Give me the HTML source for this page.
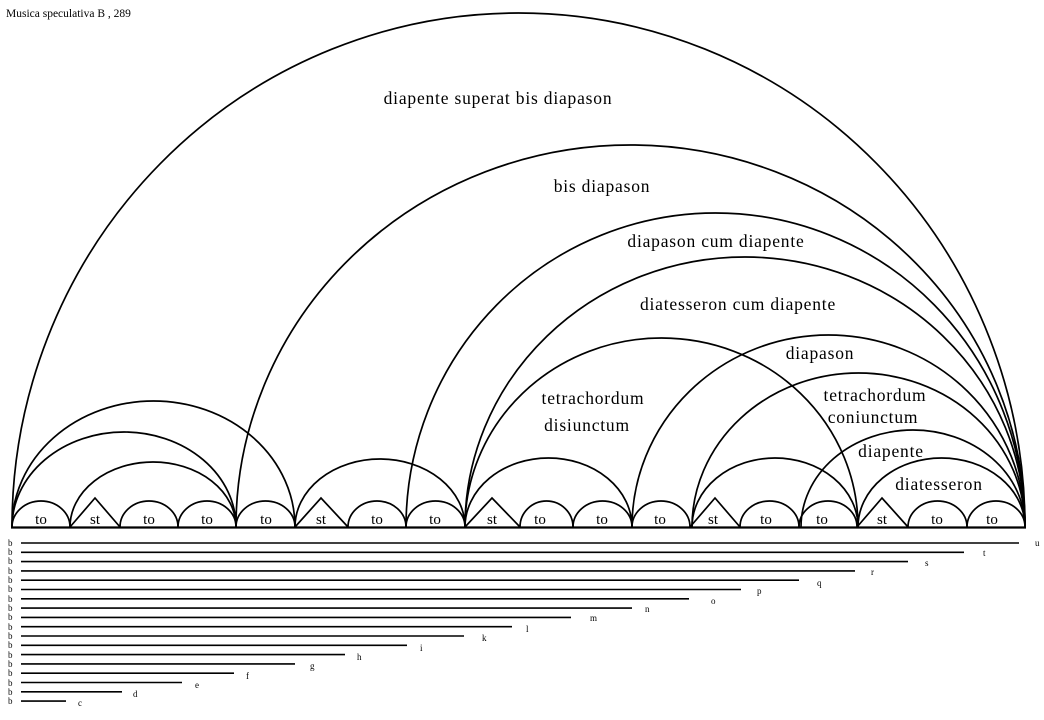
<!DOCTYPE html>
<html><head><meta charset="utf-8"><style>
html,body{margin:0;padding:0;background:#fff;}
svg{display:block;}
text{font-family:"Liberation Serif",serif;fill:#000;}
</style></head><body>
<svg width="1044" height="720" viewBox="0 0 1044 720" xmlns="http://www.w3.org/2000/svg">
<text x="6" y="17" font-size="11.5">Musica speculativa B , 289</text>
<g fill="none" stroke="#000" stroke-width="1.7">
<path d="M12 527 A506.5 514 0 0 1 1025 527"/>
<path d="M236 527 A394.5 382 0 0 1 1025 527"/>
<path d="M406 527 A309.5 314 0 0 1 1025 527"/>
<path d="M465 527 A280 270 0 0 1 1025 527"/>
<path d="M465 527 A196.5 189 0 0 1 858 527"/>
<path d="M632 527 A196.5 192 0 0 1 1025 527"/>
<path d="M692 527 A166.5 154 0 0 1 1025 527"/>
<path d="M801 527 A112 97 0 0 1 1025 527"/>
<path d="M858 527 A83.5 69 0 0 1 1025 527"/>
<path d="M692 527 A83 69 0 0 1 858 527"/>
<path d="M465 527 A83.5 69 0 0 1 632 527"/>
<path d="M295 527 A85 68 0 0 1 465 527"/>
<path d="M12 527 A141.5 126 0 0 1 295 527"/>
<path d="M12 527 A112 95 0 0 1 236 527"/>
<path d="M70 527 A83 65 0 0 1 236 527"/>
<path d="M12 527 A29 26 0 0 1 70 527"/>
<path d="M70 527 L95 498 L120 527"/>
<path d="M120 527 A29 26 0 0 1 178 527"/>
<path d="M178 527 A29 26 0 0 1 236 527"/>
<path d="M236 527 A29.5 26 0 0 1 295 527"/>
<path d="M295 527 L321 498 L348 527"/>
<path d="M348 527 A29 26 0 0 1 406 527"/>
<path d="M406 527 A29.5 26 0 0 1 465 527"/>
<path d="M465 527 L492 498 L520 527"/>
<path d="M520 527 A26.5 26 0 0 1 573 527"/>
<path d="M573 527 A29.5 26 0 0 1 632 527"/>
<path d="M632 527 A29 26 0 0 1 690 527"/>
<path d="M690 527 L715 498 L740 527"/>
<path d="M740 527 A29.5 26 0 0 1 799 527"/>
<path d="M799 527 A29 26 0 0 1 857 527"/>
<path d="M857 527 L882 498 L908 527"/>
<path d="M908 527 A29.5 26 0 0 1 967 527"/>
<path d="M967 527 A29 26 0 0 1 1025 527"/>
</g>
<line x1="11" y1="527.5" x2="1026" y2="527.5" stroke="#000" stroke-width="2.2"/>
<g font-size="15" text-anchor="middle">
<text x="41" y="524">to</text><text x="95" y="524">st</text><text x="149" y="524">to</text><text x="207" y="524">to</text>
<text x="266" y="524">to</text><text x="321" y="524">st</text><text x="377" y="524">to</text><text x="435" y="524">to</text>
<text x="492" y="524">st</text><text x="540" y="524">to</text><text x="602" y="524">to</text><text x="660" y="524">to</text>
<text x="713" y="524">st</text><text x="766" y="524">to</text><text x="822" y="524">to</text><text x="882" y="524">st</text>
<text x="937" y="524">to</text><text x="992" y="524">to</text>
</g>
<g font-size="17.5" text-anchor="middle" letter-spacing="0.8">
<text x="498" y="104">diapente superat bis diapason</text>
<text x="602" y="192">bis diapason</text>
<text x="716" y="247">diapason cum diapente</text>
<text x="738" y="310">diatesseron cum diapente</text>
<text x="820" y="359">diapason</text>
<text x="593" y="404">tetrachordum</text>
<text x="587" y="431">disiunctum</text>
<text x="875" y="401">tetrachordum</text>
<text x="873" y="423">coniunctum</text>
<text x="891" y="457">diapente</text>
<text x="939" y="490">diatesseron</text>
</g>
<g stroke="#000" stroke-width="1.6">
<line x1="21" y1="543" x2="1019" y2="543"/>
<line x1="21" y1="552.3" x2="964" y2="552.3"/>
<line x1="21" y1="561.6" x2="908" y2="561.6"/>
<line x1="21" y1="570.9" x2="855" y2="570.9"/>
<line x1="21" y1="580.2" x2="799" y2="580.2"/>
<line x1="21" y1="589.5" x2="741" y2="589.5"/>
<line x1="21" y1="598.8" x2="689" y2="598.8"/>
<line x1="21" y1="608.1" x2="632" y2="608.1"/>
<line x1="21" y1="617.4" x2="571" y2="617.4"/>
<line x1="21" y1="626.7" x2="512" y2="626.7"/>
<line x1="21" y1="636" x2="464" y2="636"/>
<line x1="21" y1="645.3" x2="407" y2="645.3"/>
<line x1="21" y1="654.6" x2="345" y2="654.6"/>
<line x1="21" y1="663.9" x2="295" y2="663.9"/>
<line x1="21" y1="673.2" x2="234" y2="673.2"/>
<line x1="21" y1="682.5" x2="182" y2="682.5"/>
<line x1="21" y1="691.8" x2="122" y2="691.8"/>
<line x1="21" y1="701.1" x2="66" y2="701.1"/>
</g>
<g font-size="9">
<text x="8" y="546">b</text><text x="8" y="555">b</text><text x="8" y="564">b</text><text x="8" y="574">b</text>
<text x="8" y="583">b</text><text x="8" y="592">b</text><text x="8" y="602">b</text><text x="8" y="611">b</text>
<text x="8" y="620">b</text><text x="8" y="630">b</text><text x="8" y="639">b</text><text x="8" y="648">b</text>
<text x="8" y="658">b</text><text x="8" y="667">b</text><text x="8" y="676">b</text><text x="8" y="686">b</text>
<text x="8" y="695">b</text><text x="8" y="704">b</text>
<text x="1035" y="546">u</text><text x="983" y="556">t</text><text x="925" y="566">s</text><text x="871" y="575">r</text>
<text x="817" y="586">q</text><text x="757" y="594">p</text><text x="711" y="604">o</text><text x="645" y="612">n</text>
<text x="590" y="621">m</text><text x="526" y="632">l</text><text x="482" y="641">k</text><text x="420" y="651">i</text>
<text x="357" y="660">h</text><text x="310" y="669">g</text><text x="246" y="679">f</text><text x="195" y="688">e</text>
<text x="133" y="697">d</text><text x="78" y="706">c</text>
</g>
</svg>
</body></html>
